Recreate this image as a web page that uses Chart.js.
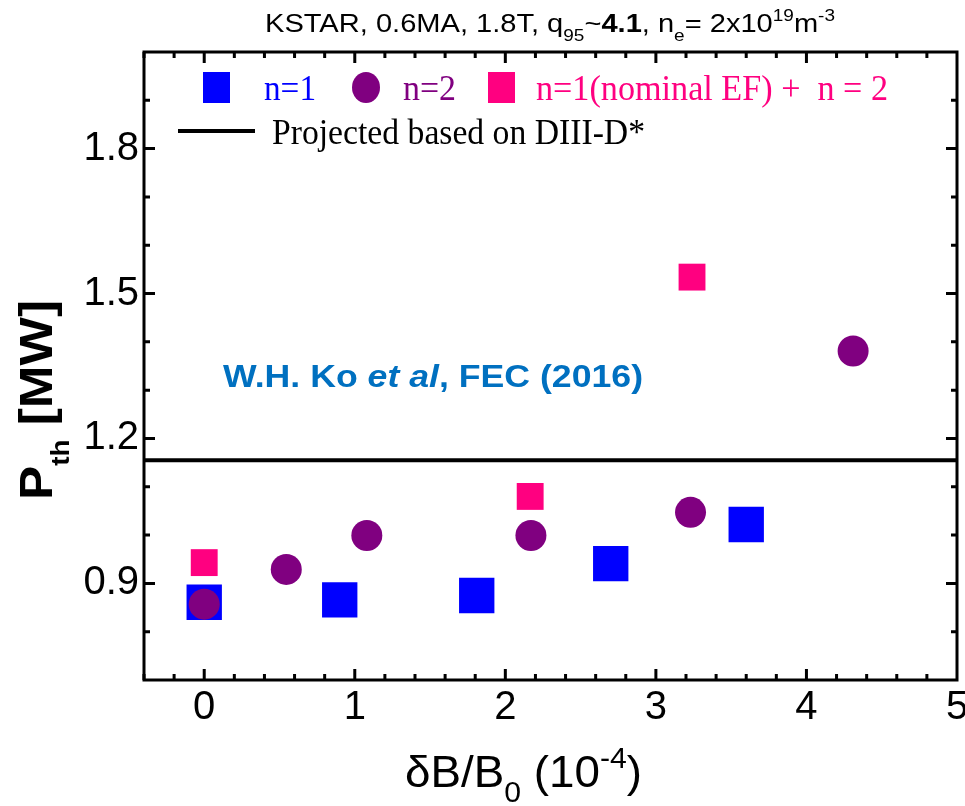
<!DOCTYPE html>
<html>
<head>
<meta charset="utf-8">
<script src="https://cdn.jsdelivr.net/npm/chart.js@4/dist/chart.umd.min.js"></script>
<style>
  html, body { margin: 0; padding: 0; background: #fff; }
  canvas { display: block; }
</style>
</head>
<body>
<canvas id="c" width="965" height="806"></canvas>
<script>
// Perturbation amplitude δB/B0 (units of 1e-4) and L-H threshold power P_th (MW)
const n1X = [0, 0.90, 1.81, 2.70, 3.60];
const n1Pth = [0.861, 0.866, 0.875, 0.941, 1.022];

const n2X = [0, 0.545, 1.08, 2.17, 3.23, 4.31];
const n2Pth = [0.857, 0.929, 0.999, 0.999, 1.047, 1.381];

const mixX = [0, 2.165, 3.24];
const mixPth = [0.943, 1.080, 1.534];

// Threshold projected from the DIII-D scaling
const projectedPth = 1.155;

const xRange = [-0.4, 5];
const yRange = [0.7, 2.0];
const xTicks = [0, 1, 2, 3, 4, 5];
const yTicks = [0.9, 1.2, 1.5, 1.8];

const seriesLabels = ['n=1', 'n=2', 'n=1(nominal EF) +  n = 2', 'Projected based on DIII-D*'];

const BLUE = '#0000ff';
const PURPLE = '#800080';
const PINK = '#ff0080';
const CITE = '#0070c0';

const SANS = '"Liberation Sans", Arial, sans-serif';
const SERIF = '"Liberation Serif", "Times New Roman", serif';

const toPoints = (xs, ys) => xs.map((x, i) => ({ x, y: ys[i] }));

// Draws a run of text pieces (sub/superscripts, mixed weights), squeezed to a width
function drawRich(ctx, parts, x, y, width, color) {
  ctx.save();
  let total = 0;
  for (const p of parts) { ctx.font = p.font; p.w = ctx.measureText(p.text).width; total += p.w; }
  const sx = width ? width / total : 1;
  ctx.translate(x, y);
  ctx.scale(sx, 1);
  ctx.textBaseline = 'alphabetic';
  ctx.textAlign = 'left';
  let cx = 0;
  for (const p of parts) {
    ctx.font = p.font;
    ctx.fillStyle = p.color || color;
    ctx.fillText(p.text, cx, p.dy || 0);
    cx += p.w;
  }
  ctx.restore();
}

const decorations = {
  id: 'decorations',
  afterDraw(chart) {
    const ctx = chart.ctx;
    const { left, right, top, bottom } = chart.chartArea;
    const xs = chart.scales.x, ys = chart.scales.y;

    // frame
    ctx.save();
    ctx.strokeStyle = '#000';
    ctx.lineWidth = 3;
    ctx.strokeRect(left, top, right - left, bottom - top);

    // inward tick marks on all four sides
    const majorLen = 11, minorLen = 6;
    ctx.beginPath();
    for (let k = -2; k <= 25; k++) {
      const v = k * 0.2;
      if (v < xRange[0] || v > xRange[1] - 1e-9) continue;
      const len = Math.abs(v - Math.round(v)) < 1e-6 ? majorLen : minorLen;
      const px = xs.getPixelForValue(v);
      ctx.moveTo(px, bottom); ctx.lineTo(px, bottom - len);
      ctx.moveTo(px, top); ctx.lineTo(px, top + len);
    }
    for (let k = 8; k <= 19; k++) {
      const v = k / 10;
      const len = yTicks.some(t => Math.abs(t - v) < 1e-6) ? majorLen : minorLen;
      const py = ys.getPixelForValue(v);
      ctx.moveTo(left, py); ctx.lineTo(left + len, py);
      ctx.moveTo(right, py); ctx.lineTo(right - len, py);
    }
    ctx.stroke();
    ctx.restore();

    // legend, row 1
    const ds = chart.data.datasets;
    ctx.save();
    ctx.fillStyle = ds[0].backgroundColor;
    ctx.fillRect(203, 72, 27, 31);
    ctx.fillStyle = ds[1].backgroundColor;
    ctx.beginPath(); ctx.ellipse(366, 87.5, 14, 15.5, 0, 0, Math.PI * 2); ctx.fill();
    ctx.fillStyle = ds[2].backgroundColor;
    ctx.fillRect(488, 72, 27, 31);
    ctx.restore();
    drawRich(ctx, [{ text: seriesLabels[0], font: '36px ' + SERIF }], 264, 100, 52, BLUE);
    drawRich(ctx, [{ text: seriesLabels[1], font: '36px ' + SERIF }], 403, 100, 53, PURPLE);
    drawRich(ctx, [{ text: seriesLabels[2], font: '36px ' + SERIF }], 536, 100, 352, PINK);
    // legend, row 2
    ctx.save();
    ctx.strokeStyle = '#000';
    ctx.lineWidth = 4;
    ctx.beginPath(); ctx.moveTo(178, 131); ctx.lineTo(255, 131); ctx.stroke();
    ctx.restore();
    drawRich(ctx, [{ text: seriesLabels[3], font: '36px ' + SERIF }], 272, 144, 373, '#000');

    // citation
    drawRich(ctx, [
      { text: 'W.H. Ko ', font: 'bold 32px ' + SANS },
      { text: 'et al', font: 'italic bold 32px ' + SANS },
      { text: ', FEC (2016)', font: 'bold 32px ' + SANS }
    ], 223, 387, 420, CITE);

    // header
    drawRich(ctx, [
      { text: 'KSTAR, 0.6MA, 1.8T, q', font: '26px ' + SANS },
      { text: '95', font: '17px ' + SANS, dy: 9 },
      { text: '~', font: '26px ' + SANS },
      { text: '4.1', font: 'bold 26px ' + SANS },
      { text: ', n', font: '26px ' + SANS },
      { text: 'e', font: '17px ' + SANS, dy: 9 },
      { text: '= 2x10', font: '26px ' + SANS },
      { text: '19', font: '17px ' + SANS, dy: -11 },
      { text: 'm', font: '26px ' + SANS },
      { text: '-3', font: '17px ' + SANS, dy: -11 }
    ], 265, 32, 570, '#000');

    // x-axis title
    drawRich(ctx, [
      { text: 'δB/B', font: '44px ' + SANS },
      { text: '0', font: '29px ' + SANS, dy: 15 },
      { text: ' (10', font: '44px ' + SANS },
      { text: '-4', font: '29px ' + SANS, dy: -19 },
      { text: ')', font: '44px ' + SANS }
    ], 405, 787, 237, '#000');

    // y-axis title, rotated
    ctx.save();
    ctx.translate(52, 500);
    ctx.rotate(-Math.PI / 2);
    drawRich(ctx, [
      { text: 'P', font: 'bold 46px ' + SANS },
      { text: 'th', font: 'bold 25px ' + SANS, dy: 17 },
      { text: ' [MW]', font: 'bold 46px ' + SANS }
    ], 0, 0, 200, '#000');
    ctx.restore();
  }
};

new Chart(document.getElementById('c'), {
  type: 'scatter',
  data: {
    datasets: [
      {
        label: seriesLabels[0],
        data: toPoints(n1X, n1Pth),
        pointStyle: 'rect',
        pointRadius: 25,
        backgroundColor: BLUE,
        borderColor: BLUE,
        borderWidth: 0,
        order: 2
      },
      {
        label: seriesLabels[1],
        data: toPoints(n2X, n2Pth),
        pointStyle: 'circle',
        pointRadius: 15.5,
        backgroundColor: PURPLE,
        borderColor: PURPLE,
        borderWidth: 0,
        order: 1
      },
      {
        label: seriesLabels[2],
        data: toPoints(mixX, mixPth),
        pointStyle: 'rect',
        pointRadius: 19,
        backgroundColor: PINK,
        borderColor: PINK,
        borderWidth: 0,
        order: 0
      },
      {
        label: seriesLabels[3],
        data: toPoints(xRange, [projectedPth, projectedPth]),
        showLine: true,
        borderColor: '#000',
        backgroundColor: '#000',
        borderWidth: 4,
        pointRadius: 0,
        order: 3
      }
    ]
  },
  options: {
    responsive: false,
    animation: false,
    devicePixelRatio: 1,
    events: [],
    layout: { autoPadding: false, padding: { top: 52, right: 8, left: 0, bottom: 0 } },
    plugins: {
      legend: { display: false },
      tooltip: { enabled: false },
      title: { display: false }
    },
    scales: {
      x: {
        type: 'linear',
        min: xRange[0],
        max: xRange[1],
        grid: { display: false, drawTicks: false },
        border: { display: false },
        afterBuildTicks: s => { s.ticks = xTicks.map(v => ({ value: v })); },
        afterFit: s => { s.height = 126; s.paddingLeft = 0; s.paddingRight = 0; },
        ticks: {
          color: '#000',
          padding: 4,
          maxRotation: 0,
          font: { family: SANS, size: 40 },
          callback: v => String(v)
        }
      },
      y: {
        type: 'linear',
        min: yRange[0],
        max: yRange[1],
        grid: { display: false, drawTicks: false },
        border: { display: false },
        afterBuildTicks: s => { s.ticks = yTicks.map(v => ({ value: v })); },
        afterFit: s => { s.width = 144; s.paddingTop = 0; s.paddingBottom = 0; },
        ticks: {
          color: '#000',
          padding: 5,
          font: { family: SANS, size: 40 },
          callback: v => v.toFixed(1)
        }
      }
    }
  },
  plugins: [decorations]
});
</script>
</body>
</html>
